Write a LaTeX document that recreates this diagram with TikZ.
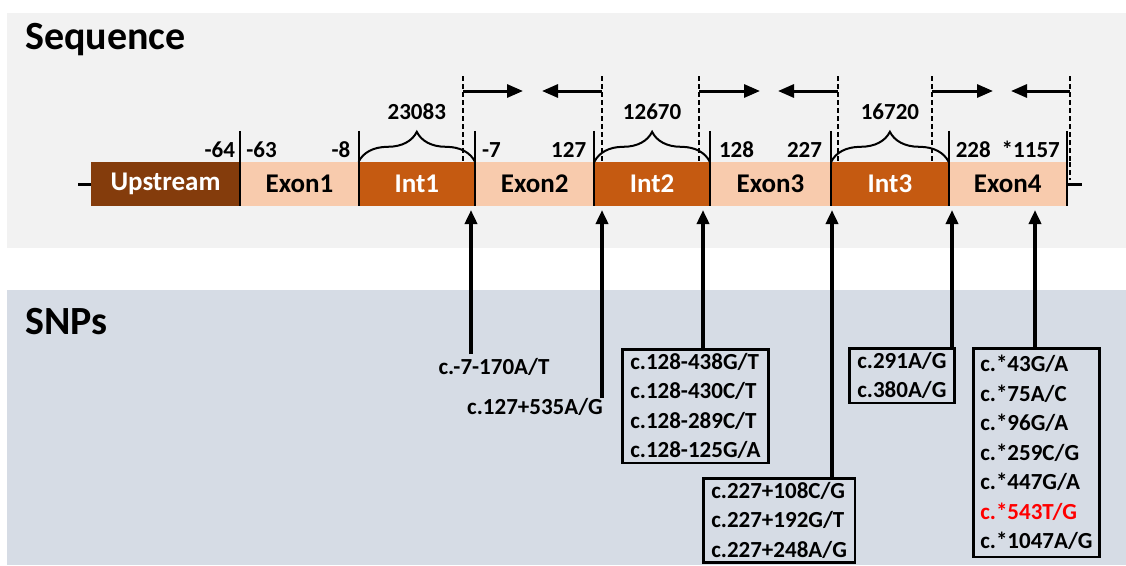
\documentclass[tikz,border=0pt]{standalone}
\usepackage{fontspec}
\setmainfont{Carlito}
\usetikzlibrary{positioning,arrows.meta,decorations.pathreplacing}

\definecolor{seqgray}{HTML}{F2F2F2}
\definecolor{snpblue}{HTML}{D6DCE5}
\definecolor{upbrown}{HTML}{843C0C}
\definecolor{intorange}{HTML}{C55A11}
\definecolor{exonpeach}{HTML}{F8CBAD}

\begin{document}
\begin{tikzpicture}[x=1pt, y=-1pt, node distance=0pt,
    seg/.style={rectangle, minimum height=44pt, inner sep=0pt, font=\fontsize{27}{30}\selectfont\bfseries},
    upseg/.style={seg, fill=upbrown, text=white},
    exon/.style={seg, fill=exonpeach},
    intr/.style={seg, fill=intorange, text=white},
    num/.style={inner sep=0pt, font=\fontsize{23}{26}\selectfont\bfseries},
    title/.style={anchor=west, inner sep=0pt, font=\fontsize{40}{44}\selectfont\bfseries},
    bound/.style={line width=2pt},
    cut/.style={line width=1.8pt, dash pattern=on 5pt off 3pt},
    primer/.style={line width=3pt, -{Triangle[length=16pt,width=13pt]}},
    snp/.style={line width=3.5pt, -{Triangle[length=14pt,width=12pt]}},
    snpbox/.style={draw, line width=2.5pt, inner xsep=8pt, inner ysep=4pt, align=left, anchor=north west, font=\fontsize{23}{29.5}\selectfont\bfseries},
    snplabel/.style={inner sep=0pt, font=\fontsize{23}{29.5}\selectfont\bfseries}]
    \useasboundingbox (0,0) rectangle (1126,565);

    % panels
    \fill[seqgray] (7,13) rectangle (1126,248);
    \fill[snpblue] (7,290) rectangle (1126,565);
    \node[title] (seqtitle) at (25,40) {Sequence};
    \node[title] (snptitle) at (25,322) {SNPs};

    % gene bar
    \node[upseg, minimum width=149pt] (upst) at (165.5,184) {Upstream};
    \node[exon, minimum width=118pt, right=of upst] (ex1) {Exon1};
    \node[intr, minimum width=116pt, right=of ex1] (int1) {Int1};
    \node[exon, minimum width=119pt, right=of int1] (ex2) {Exon2};
    \node[intr, minimum width=115pt, right=of ex2] (int2) {Int2};
    \node[exon, minimum width=121pt, right=of int2] (ex3) {Exon3};
    \node[intr, minimum width=117pt, right=of ex3] (int3) {Int3};
    \node[exon, minimum width=118pt, right=of int3] (ex4) {Exon4};

    \foreach \s in {upst,ex1,int1,ex2,int2,ex3,int3,ex4}
        \draw[bound] ([yshift=31pt]\s.north east) -- (\s.south east);
    \draw[line width=3pt] (upst.west) -- ++(-13,0);
    \draw[line width=3pt] (ex4.east) -- ++(15,0);

    % positions
    \node[num, anchor=base east] (n1) at ([xshift=-5pt,yshift=4pt]upst.north east) {-64};
    \node[num, anchor=base west] (n2) at ([xshift=6pt,yshift=4pt]ex1.north west) {-63};
    \node[num, anchor=base east] (n3) at ([xshift=-8pt,yshift=4pt]ex1.north east) {-8};
    \node[num, anchor=base west] (n4) at ([xshift=7pt,yshift=4pt]ex2.north west) {-7};
    \node[num, anchor=base east] (n5) at ([xshift=-8pt,yshift=4pt]ex2.north east) {127};
    \node[num, anchor=base west] (n6) at ([xshift=9pt,yshift=4pt]ex3.north west) {128};
    \node[num, anchor=base east] (n7) at ([xshift=-9pt,yshift=4pt]ex3.north east) {227};
    \node[num, anchor=base west] (n8) at ([xshift=7pt,yshift=4pt]ex4.north west) {228};
    \node[num, anchor=base east] (n9) at ([xshift=-7pt,yshift=4pt]ex4.north east) {*1157};

    % intron lengths
    \foreach \i/\len in {int1/23083, int2/12670, int3/16720} {
        \draw[line width=2pt, decorate, decoration={brace, amplitude=30pt}] (\i.north west) -- (\i.north east);
        \node[num] (len-\i) at ([yshift=50pt]\i.north) {\len};
    }

    % primers
    \foreach \x/\e [count=\k] in {463/523, 602/542, 699/760, 838/778, 932/993, 1070/1011} {
        \coordinate (pa\k) at (\x,91);
        \coordinate (pb\k) at (\e,91);
        \draw[cut] (\x,76) -- (\x,162);
        \draw[primer] (pa\k) -- (pb\k);
    }
    \draw[cut] (1070,162) -- (1070,180);

    % SNPs
    \node[snplabel] (s1) at (494,367) {c.-7-170A/T};
    \node[snplabel] (s2) at (535,407) {c.127+535A/G};
    \node[snpbox] (b1) at (621,348) {c.128-438G/T\\c.128-430C/T\\c.128-289C/T\\c.128-125G/A};
    \node[snpbox] (b2) at (702,477) {c.227+108C/G\\c.227+192G/T\\c.227+248A/G};
    \node[snpbox] (b3) at (848,347) {c.291A/G\\c.380A/G};
    \node[snpbox, inner ysep=7pt, inner xsep=7pt] (b4) at (972,347) {c.*43G/A\\c.*75A/C\\c.*96G/A\\c.*259C/G\\c.*447G/A\\\textcolor{red}{c.*543T/G}\\c.*1047A/G};

    \coordinate (t1) at (471,210);
    \coordinate (t2) at (602,210);
    \coordinate (t3) at (703,210);
    \coordinate (t4) at (832,210);
    \coordinate (t5) at (952,210);
    \coordinate (t6) at (1035,210);
    \draw[snp] ([yshift=4pt]t1 |- s1.north) -- (t1);
    \draw[snp] (t2 |- s2.north) -- (t2);
    \draw[snp] (t3 |- b1.north) -- (t3);
    \draw[snp] (t4 |- b2.north) -- (t4);
    \draw[snp] (t5 |- b3.north) -- (t5);
    \draw[snp] (t6 |- b4.north) -- (t6);
\end{tikzpicture}
\end{document}
